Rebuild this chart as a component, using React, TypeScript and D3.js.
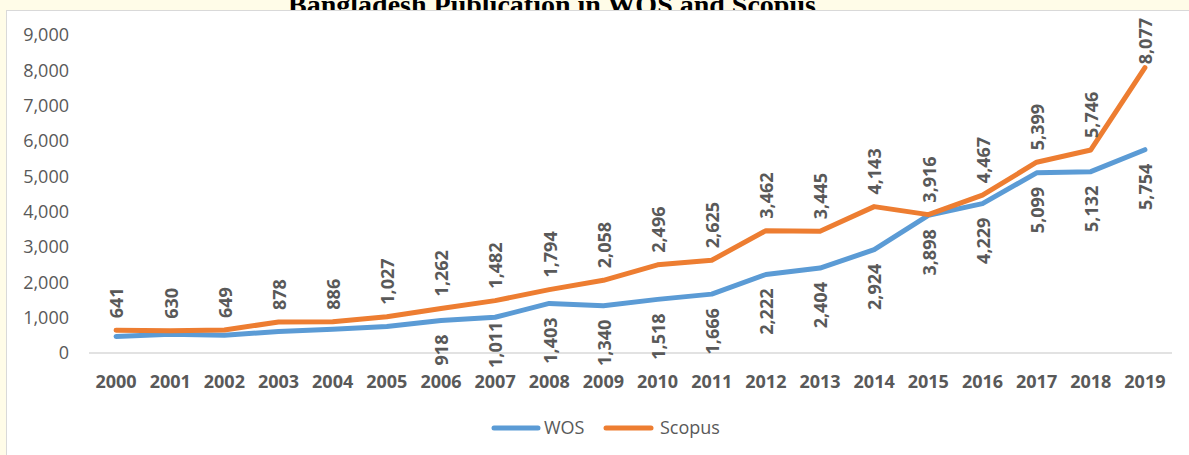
import React, { useEffect } from 'react';
import * as d3 from 'd3';

const years = ['2000', '2001', '2002', '2003', '2004', '2005', '2006', '2007', '2008', '2009',
  '2010', '2011', '2012', '2013', '2014', '2015', '2016', '2017', '2018', '2019'];
const wos = [470, 530, 500, 610, 670, 750, 918, 1011, 1403, 1340,
  1518, 1666, 2222, 2404, 2924, 3898, 4229, 5099, 5132, 5754];
const scopus = [641, 630, 649, 878, 886, 1027, 1262, 1482, 1794, 2058,
  2496, 2625, 3462, 3445, 4143, 3916, 4467, 5399, 5746, 8077];
// WOS values before 2006 have no label in the original
const wosLabelled = ['2006', '2007', '2008', '2009', '2010', '2011', '2012', '2013', '2014',
  '2015', '2016', '2017', '2018', '2019'];
const yTicks = [0, 1000, 2000, 3000, 4000, 5000, 6000, 7000, 8000, 9000];

const W = 1189;
const H = 455;
const FONT = '"Open Sans", "Noto Sans", sans-serif';
const GREY = '#595959';
const BLUE = '#5B9BD5';
const ORANGE = '#ED7D31';

let ctx: CanvasRenderingContext2D | null = null;
const textLen = (s: string) => {
  if (!ctx) ctx = document.createElement('canvas').getContext('2d');
  if (!ctx) return s.length * 9;
  ctx.font = `bold 18px ${FONT}`;
  return ctx.measureText(s).width;
};

const App = () => {
  useEffect(() => {
    document.body.style.margin = '0';
  }, []);

  const x = d3.scaleBand().domain(years).range([89, 1172]);
  const y = d3.scaleLinear().domain([0, 9000]).range([353, 35]);
  const cx = (d: string) => (x(d) as number) + x.bandwidth() / 2;
  const fmt = d3.format(',');
  const plotTop = 18;
  const plotBottom = 368;

  const line = d3.line<number>()
    .x((_, i) => cx(years[i]))
    .y(d => y(d));

  return (
    <svg width={W} height={H} style={{ display: 'block' }} fontFamily={FONT}>
      <rect x={0} y={0} width={W} height={H} fill="#fffce8" />
      <text x={552} y={14} textAnchor="middle" fontFamily='"Liberation Serif", "Times New Roman", serif'
        fontWeight="bold" fontSize={28} fill="#000">Bangladesh Publication in WOS and Scopus</text>
      <rect x={6.5} y={10.5} width={W} height={H} fill="#fff" stroke="#d9d9d9" strokeWidth={1} />

      {yTicks.map(t => (
        <text key={t} x={69} y={y(t)} dy="0.35em" textAnchor="end" fontSize={18} fill={GREY}>{fmt(t)}</text>
      ))}
      <line x1={89} x2={1172} y1={y(0)} y2={y(0)} stroke="#d9d9d9" strokeWidth={1.5} />
      {years.map(d => (
        <text key={d} x={cx(d)} y={388} textAnchor="middle" fontSize={18} fontWeight="bold" fill={GREY}>{d}</text>
      ))}

      <path d={line(wos) || ''} fill="none" stroke={BLUE} strokeWidth={5} strokeLinecap="round" strokeLinejoin="round" />
      <path d={line(scopus) || ''} fill="none" stroke={ORANGE} strokeWidth={5} strokeLinecap="round" strokeLinejoin="round" />

      {scopus.map((v, i) => {
        const s = fmt(v);
        const len = textLen(s);
        const bottom = Math.max(y(v) - 12, plotTop + len);
        return (
          <text key={'s' + i} transform={`translate(${cx(years[i]) + 1},${bottom}) rotate(-90)`}
            dy="0.35em" textAnchor="start" fontSize={18} fontWeight="bold" fill={GREY}>{s}</text>
        );
      })}
      {wos.map((v, i) => {
        if (!wosLabelled.includes(years[i])) return null;
        const s = fmt(v);
        const len = textLen(s);
        const top = Math.min(y(v) + 14, plotBottom - len);
        return (
          <text key={'w' + i} transform={`translate(${cx(years[i]) + 1},${top}) rotate(-90)`}
            dy="0.35em" textAnchor="end" fontSize={18} fontWeight="bold" fill={GREY}>{s}</text>
        );
      })}

      <g>
        <line x1={494} x2={538} y1={428} y2={428} stroke={BLUE} strokeWidth={5} strokeLinecap="round" />
        <text x={544} y={428} dy="0.35em" fontSize={18} fill={GREY}>WOS</text>
        <line x1={606} x2={651} y1={428} y2={428} stroke={ORANGE} strokeWidth={5} strokeLinecap="round" />
        <text x={660} y={428} dy="0.35em" fontSize={18} fill={GREY}>Scopus</text>
      </g>
    </svg>
  );
};

export default App;
